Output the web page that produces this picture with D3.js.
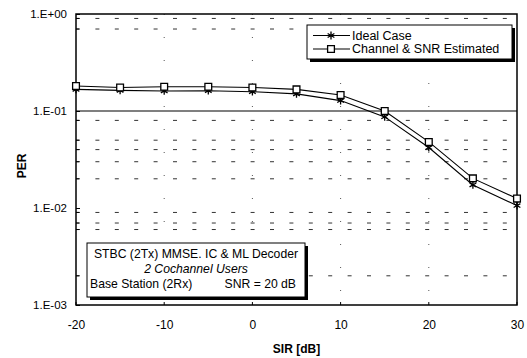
<!DOCTYPE html>
<html>
<head>
<meta charset="utf-8">
<script src="https://cdn.jsdelivr.net/npm/d3@7/dist/d3.min.js"></script>
<style>
  body { margin: 0; background: #fff; }
  svg text { font-family: "Liberation Sans", Arial, sans-serif; fill: #000; }
</style>
</head>
<body>
<script>
// SIR values (dB)
const sir = [-20, -15, -10, -5, 0, 5, 10, 15, 20, 25, 30];
// PER, ideal case
const perIdeal = [0.167, 0.163, 0.161, 0.162, 0.158, 0.150, 0.128, 0.087, 0.042, 0.0173, 0.0106];
// PER, channel & SNR estimated
const perEstimated = [0.181, 0.175, 0.178, 0.178, 0.175, 0.167, 0.146, 0.100, 0.048, 0.0202, 0.0125];

const xTicks = [-20, -10, 0, 10, 20, 30];
const yTicks = [1, 0.1, 0.01, 0.001];
const yTickLabels = ["1.E+00", "1.E-01", "1.E-02", "1.E-03"];
// gridlines that show in the picture
const majorGrid = [0.1];
const minorGrid = [0.9, 0.7, 0.08, 0.05, 0.04, 0.03, 0.02, 0.009, 0.007, 0.006, 0.002];
const vGrid = [-10, 0, 10, 20];

const legendLabels = ["Ideal Case", "Channel & SNR Estimated"];
const noteLines = ["STBC (2Tx) MMSE. IC & ML Decoder", "2 Cochannel Users"];
const noteLeft = "Base Station (2Rx)";
const noteRight = "SNR = 20 dB";

const margin = {top: 14, right: 10, bottom: 53, left: 76};
const width = 527 - margin.left - margin.right,
      height = 358 - margin.top - margin.bottom;

const svg = d3.select("body").append("svg")
  .attr("width", 527)
  .attr("height", 358);

const g = svg.append("g")
  .attr("transform", "translate(" + margin.left + "," + margin.top + ")");

const x = d3.scaleLinear().domain([-20, 30]).range([0, width]);
const y = d3.scaleLog().domain([0.001, 1]).range([height, 0]);

// minor gridlines (dashed)
g.selectAll(".minor").data(minorGrid).enter().append("line")
  .attr("x1", 0).attr("x2", width)
  .attr("y1", d => y(d)).attr("y2", d => y(d))
  .attr("stroke", "#333").attr("stroke-width", 1)
  .attr("stroke-dasharray", "4,15.4");

// left inward ticks for minor grid
g.selectAll(".mtick").data(minorGrid).enter().append("line")
  .attr("x1", 0).attr("x2", 3)
  .attr("y1", d => y(d)).attr("y2", d => y(d))
  .attr("stroke", "#000");

// vertical sparse dotted gridlines
g.selectAll(".vgrid").data(vGrid).enter().append("line")
  .attr("x1", d => x(d)).attr("x2", d => x(d))
  .attr("y1", 0).attr("y2", height)
  .attr("stroke", "#555").attr("stroke-width", 1)
  .attr("stroke-dasharray", "1,22");

// major gridline
g.selectAll(".major").data(majorGrid).enter().append("line")
  .attr("x1", 0).attr("x2", width)
  .attr("y1", d => y(d)).attr("y2", d => y(d))
  .attr("stroke", "#000").attr("stroke-width", 1.2);

// frame
g.append("rect")
  .attr("width", width).attr("height", height)
  .attr("fill", "none").attr("stroke", "#000").attr("stroke-width", 1.5);

// y axis
const yAxis = d3.axisLeft(y)
  .tickValues(yTicks)
  .tickFormat((d, i) => yTickLabels[i])
  .tickSize(4).tickPadding(3);
g.append("g").call(yAxis)
  .call(a => a.select(".domain").remove())
  .call(a => a.selectAll(".tick line").attr("x2", 4))
  .call(a => a.selectAll("text").attr("font-size", 11.5).attr("x", -9));

// x axis
const xAxis = d3.axisBottom(x).tickValues(xTicks).tickSize(0).tickPadding(15)
  .tickFormat(d => String(d));
g.append("g")
  .attr("transform", "translate(0," + height + ")")
  .call(xAxis)
  .call(a => a.select(".domain").remove())
  .call(a => a.selectAll("text").attr("font-size", 12));
g.selectAll(".xtick").data(xTicks).enter().append("line")
  .attr("x1", d => x(d)).attr("x2", d => x(d))
  .attr("y1", height).attr("y2", height - 3)
  .attr("stroke", "#000");

// axis titles
svg.append("text")
  .attr("x", margin.left + width / 2).attr("y", 353)
  .attr("text-anchor", "middle")
  .attr("font-size", 12).attr("font-weight", "bold")
  .text("SIR [dB]");
svg.append("text")
  .attr("transform", "translate(26," + (margin.top + 152) + ") rotate(-90)")
  .attr("text-anchor", "middle")
  .attr("font-size", 12).attr("font-weight", "bold")
  .text("PER");

// series
const series = [
  {name: legendLabels[0], values: perIdeal, symbol: d3.symbolAsterisk, size: 42, fill: "#000"},
  {name: legendLabels[1], values: perEstimated, symbol: d3.symbolSquare, size: 46, fill: "#fff"}
];

const line = d3.line()
  .x((d, i) => x(sir[i]))
  .y(d => y(d));

series.forEach(s => {
  g.append("path")
    .datum(s.values)
    .attr("d", line)
    .attr("fill", "none").attr("stroke", "#000").attr("stroke-width", 1.1);
  g.selectAll(null).data(s.values).enter().append("path")
    .attr("transform", (d, i) => "translate(" + x(sir[i]) + "," + y(d) + ")")
    .attr("d", d3.symbol().type(s.symbol).size(s.size))
    .attr("fill", s.fill).attr("stroke", "#000").attr("stroke-width", 1.3);
});

// legend
const lg = svg.append("g").attr("transform", "translate(307,25)");
lg.append("rect").attr("x", 3).attr("y", 3).attr("width", 205).attr("height", 34).attr("fill", "#000");
lg.append("rect").attr("width", 205).attr("height", 34).attr("fill", "#fff").attr("stroke", "#000");
series.forEach((s, i) => {
  const yy = 10.5 + i * 13.5;
  lg.append("line").attr("x1", 6).attr("x2", 43).attr("y1", yy).attr("y2", yy)
    .attr("stroke", "#000").attr("stroke-width", 1.1);
  lg.append("path")
    .attr("transform", "translate(24," + yy + ")")
    .attr("d", d3.symbol().type(s.symbol).size(s.size))
    .attr("fill", s.fill).attr("stroke", "#000").attr("stroke-width", 1.3);
  lg.append("text").attr("x", 45).attr("y", yy + 4.3)
    .attr("font-size", 12.5).text(s.name);
});

// annotation box
const nb = svg.append("g").attr("transform", "translate(87,243)");
nb.append("rect").attr("x", 3).attr("y", 3).attr("width", 218).attr("height", 54).attr("fill", "#000");
nb.append("rect").attr("width", 218).attr("height", 54).attr("fill", "#fff").attr("stroke", "#000");
nb.append("text").attr("x", 109).attr("y", 14.5).attr("text-anchor", "middle")
  .attr("font-size", 12.2).text(noteLines[0]);
nb.append("text").attr("x", 109).attr("y", 29.5).attr("text-anchor", "middle")
  .attr("font-size", 12.2).attr("font-style", "italic").text(noteLines[1]);
nb.append("text").attr("x", 3).attr("y", 44.5)
  .attr("font-size", 12.2).text(noteLeft);
nb.append("text").attr("x", 209).attr("y", 44.5).attr("text-anchor", "end")
  .attr("font-size", 12.2).text(noteRight);
</script>
</body>
</html>
